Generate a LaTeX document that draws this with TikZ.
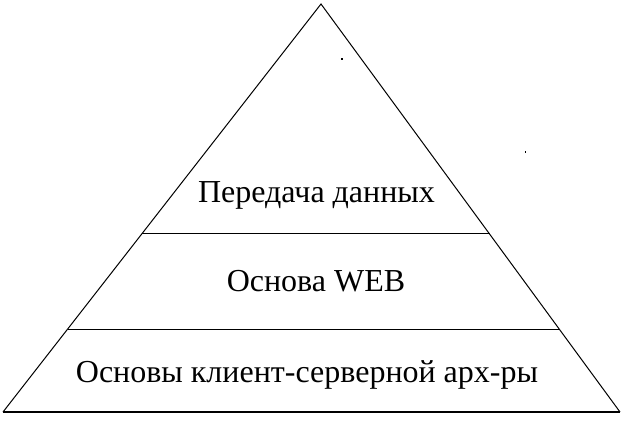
\documentclass[tikz,border=0pt]{standalone}
\usepackage{fontspec}
\setmainfont{Liberation Serif}
\begin{document}
\begin{tikzpicture}[x=1pt,y=-1pt,
  edge/.style={draw=black,line width=1pt},
  label/.style={anchor=base,inner sep=0pt,font=\fontsize{32}{36}\selectfont},
  speck/.style={fill=black}]
\useasboundingbox[fill=white] (0,0) rectangle (624,422);
\coordinate (apex) at (321,4);
\coordinate (bl) at (3,412);
\coordinate (br) at (620,412);
\coordinate (l1) at (142,234);
\coordinate (r1) at (490,234);
\coordinate (l2) at (67.5,329);
\coordinate (r2) at (559,329);
\draw[edge] (bl) -- (apex) -- (br);
\draw[edge,line width=1.5pt] (bl) -- (br);
\draw[edge] (l1) -- (r1);
\draw[edge] (l2) -- (r2);
\node[label] (t1) at (316.5,203) {Передача данных};
\node[label] (t2) at (316,291) {Основа WEB};
\node[label] (t3) at (307,382) {Основы клиент-серверной арх-ры};
\fill[speck] (340.5,58) rectangle (342.5,60.5);
\fill[speck] (524.5,151) rectangle (525.5,153.5);
\end{tikzpicture}
\end{document}
